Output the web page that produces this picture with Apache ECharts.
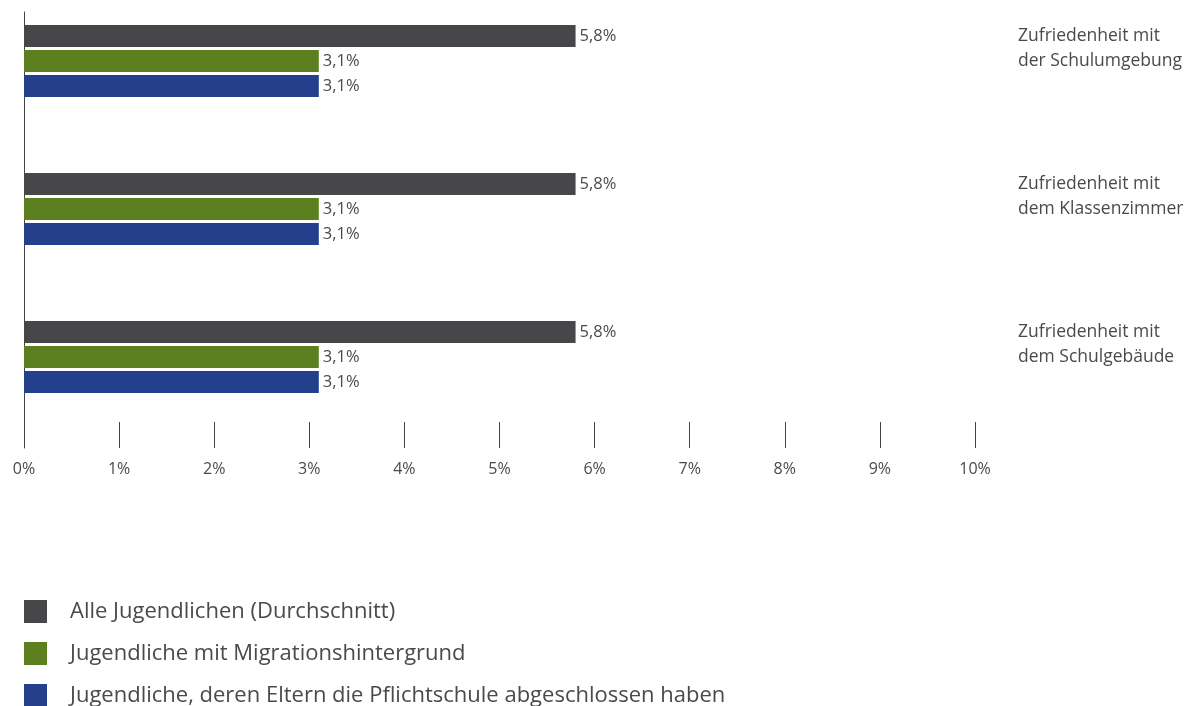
<!DOCTYPE html>
<html>
<head>
<meta charset="utf-8">
<script src="https://cdn.jsdelivr.net/npm/echarts@6/dist/echarts.min.js"></script>
<style>
  html, body { margin: 0; padding: 0; background: #ffffff; }
  #chart { width: 1189px; height: 706px; }
</style>
</head>
<body>
<div id="chart"></div>
<script>
// Satisfaction categories, top to bottom
const categories = [
  'Zufriedenheit mit\nder Schulumgebung',
  'Zufriedenheit mit\ndem Klassenzimmer',
  'Zufriedenheit mit\ndem Schulgebäude'
];

// Series names (legend)
const seriesNames = [
  'Alle Jugendlichen (Durchschnitt)',
  'Jugendliche mit Migrationshintergrund',
  'Jugendliche, deren Eltern die Pflichtschule abgeschlossen haben'
];

// Values in percent, one per category
const alleJugendlichen = [5.8, 5.8, 5.8];
const migrationshintergrund = [3.1, 3.1, 3.1];
const pflichtschule = [3.1, 3.1, 3.1];

// Value axis range
const axisMin = 0;
const axisMax = 10;
const axisStep = 1;

const seriesValues = [alleJugendlichen, migrationshintergrund, pflichtschule];
const seriesColors = ['#474749', '#5c7f1f', '#243f8c'];
const textColor = '#4a4a4a';
const fontFamily = '"Open Sans", "Noto Sans", sans-serif';

const fmtPct = v => v.toFixed(1).replace('.', ',') + '%';

const chart = echarts.init(document.getElementById('chart'), null, { renderer: 'canvas' });

chart.setOption({
  animation: false,
  backgroundColor: '#ffffff',
  textStyle: { fontFamily: fontFamily, color: textColor },
  legend: {
    orient: 'vertical',
    left: 24,
    top: 600,
    height: 200,
    padding: 0,
    itemWidth: 23,
    itemHeight: 23,
    itemGap: 19,
    icon: 'rect',
    selectedMode: false,
    data: seriesNames,
    textStyle: {
      fontFamily: fontFamily,
      fontSize: 22,
      color: textColor,
      padding: [0, 0, 0, 18]
    }
  },
  grid: [
    // bars
    { left: 24, right: 214, top: -13, height: 444, outerBoundsMode: 'none' },
    // frame: vertical base line and value ticks
    { left: 24, right: 214, top: 12, height: 436, outerBoundsMode: 'none' }
  ],
  xAxis: [
    {
      gridIndex: 0,
      type: 'value',
      min: axisMin, max: axisMax, interval: axisStep,
      show: false
    },
    {
      gridIndex: 1,
      type: 'value',
      min: axisMin, max: axisMax, interval: axisStep,
      axisLine: { show: false },
      axisTick: { show: true, inside: true, length: 26, lineStyle: { color: '#444', width: 1 } },
      splitLine: { show: false },
      axisLabel: {
        margin: 13,
        fontFamily: fontFamily,
        fontSize: 16,
        color: textColor,
        formatter: '{value}%'
      }
    }
  ],
  yAxis: [
    {
      gridIndex: 0,
      type: 'category',
      inverse: true,
      position: 'right',
      data: categories,
      axisLine: { show: false },
      axisTick: { show: false },
      axisLabel: {
        margin: 43,
        align: 'left',
        fontFamily: fontFamily,
        fontSize: 17.5,
        lineHeight: 25,
        color: textColor,
        // an empty trailing line lifts the two-line label to the top of its group
        formatter: v => v + '\n '
      }
    },
    {
      gridIndex: 1,
      type: 'value',
      min: 0, max: 1,
      axisLine: { show: true, lineStyle: { color: '#444', width: 1 } },
      axisTick: { show: false },
      axisLabel: { show: false },
      splitLine: { show: false }
    }
  ],
  series: seriesNames.map((name, i) => ({
    name: name,
    type: 'bar',
    xAxisIndex: 0,
    yAxisIndex: 0,
    data: seriesValues[i],
    barWidth: 22,
    barGap: '13.6%',
    itemStyle: { color: seriesColors[i] },
    label: {
      show: true,
      position: 'right',
      distance: 4,
      fontFamily: fontFamily,
      fontSize: 16.5,
      color: textColor,
      formatter: p => fmtPct(p.value)
    }
  }))
});
</script>
</body>
</html>
